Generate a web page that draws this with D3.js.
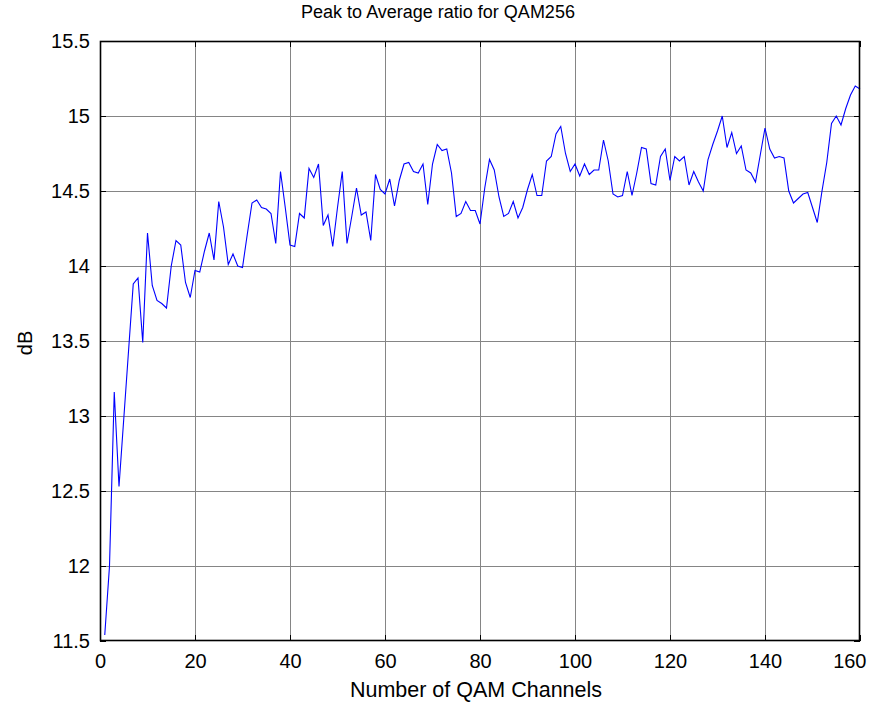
<!DOCTYPE html>
<html>
<head>
<meta charset="utf-8">
<script src="https://cdn.jsdelivr.net/npm/d3@7"></script>
<style>
  html, body { margin: 0; padding: 0; background: #fff; }
  svg { display: block; }
  text { font-family: Arial, "Liberation Sans", Helvetica, sans-serif; fill: #000; }
</style>
</head>
<body>
<svg id="chart" width="881" height="703"></svg>
<script>
// ---- data ----
const channels = d3.range(1, 161);
const papr = [
  11.54, 12.00, 13.16, 12.53, 12.98, 13.43, 13.88, 13.92, 13.49, 14.22,
  13.87, 13.77, 13.75, 13.72, 14.00, 14.17, 14.14, 13.89, 13.79, 13.97,
  13.96, 14.10, 14.22, 14.04, 14.43, 14.26, 14.01, 14.08, 14.00, 13.99,
  14.21, 14.42, 14.44, 14.39, 14.38, 14.35, 14.15, 14.63, 14.39, 14.14,
  14.13, 14.35, 14.32, 14.65, 14.59, 14.68, 14.27, 14.34, 14.13, 14.39,
  14.63, 14.15, 14.33, 14.52, 14.34, 14.36, 14.17, 14.61, 14.51, 14.48,
  14.58, 14.40, 14.57, 14.68, 14.69, 14.63, 14.62, 14.68, 14.41, 14.68,
  14.81, 14.77, 14.78, 14.62, 14.33, 14.35, 14.43, 14.37, 14.37, 14.28,
  14.52, 14.71, 14.64, 14.46, 14.33, 14.35, 14.43, 14.32, 14.39, 14.51,
  14.61, 14.47, 14.47, 14.70, 14.73, 14.88, 14.93, 14.75, 14.63, 14.68,
  14.60, 14.68, 14.61, 14.64, 14.64, 14.84, 14.70, 14.48, 14.46, 14.47,
  14.63, 14.47, 14.62, 14.79, 14.78, 14.55, 14.54, 14.73, 14.78, 14.57,
  14.73, 14.70, 14.73, 14.54, 14.63, 14.56, 14.50, 14.71, 14.81, 14.90,
  15.00, 14.79, 14.89, 14.75, 14.80, 14.64, 14.62, 14.56, 14.74, 14.92,
  14.78, 14.72, 14.73, 14.72, 14.50, 14.42, 14.45, 14.48, 14.49, 14.39,
  14.29, 14.50, 14.69, 14.95, 15.00, 14.94, 15.05, 15.14, 15.20, 15.18
];
const xTicks = [0, 20, 40, 60, 80, 100, 120, 140, 160];
const yTicks = [11.5, 12, 12.5, 13, 13.5, 14, 14.5, 15, 15.5];
const titleText = "Peak to Average ratio for QAM256";
const xLabelText = "Number of QAM Channels";
const yLabelText = "dB";

// ---- layout ----
const svg = d3.select("#chart");
const L = 100, R = 860, T = 41, B = 641;
const x = d3.scaleLinear().domain([0, 160]).range([L, R]);
const y = d3.scaleLinear().domain([11.5, 15.5]).range([B, T]);

// grid
const grid = svg.append("g");
grid.selectAll("line.gx").data(xTicks.slice(1, -1)).enter().append("line")
  .attr("x1", d => Math.round(x(d)) + 0.5).attr("x2", d => Math.round(x(d)) + 0.5)
  .attr("y1", T).attr("y2", B)
  .attr("stroke", "#858585").attr("stroke-width", 1);
grid.selectAll("line.gy").data(yTicks.slice(1, -1)).enter().append("line")
  .attr("y1", d => Math.round(y(d)) + 0.5).attr("y2", d => Math.round(y(d)) + 0.5)
  .attr("x1", L).attr("x2", R)
  .attr("stroke", "#858585").attr("stroke-width", 1);

// line
const line = d3.line().x((d, i) => x(channels[i])).y(d => y(d));
svg.append("path").datum(papr)
  .attr("d", line)
  .attr("fill", "none")
  .attr("stroke", "#0000ff")
  .attr("stroke-width", 1.1)
  .attr("stroke-linejoin", "miter");

// axes (ticks inward, labels outside)
const xAxisB = d3.axisBottom(x).tickValues(xTicks).tickSizeInner(-6).tickSizeOuter(0).tickPadding(13);
const xAxisT = d3.axisTop(x).tickValues(xTicks).tickSizeInner(-6).tickSizeOuter(0).tickFormat("");
const yAxisL = d3.axisLeft(y).tickValues(yTicks).tickSizeInner(-6).tickSizeOuter(0).tickPadding(10).tickFormat(d3.format(""));
const yAxisR = d3.axisRight(y).tickValues(yTicks).tickSizeInner(-6).tickSizeOuter(0).tickFormat("");

function styleAxis(g) {
  g.select(".domain").remove();
  g.selectAll(".tick line").attr("stroke", "#000").attr("stroke-width", 1);
  g.selectAll("text").style("font-size", "20px").attr("fill", "#000");
}
const gxb = svg.append("g").attr("transform", `translate(0,${B})`).call(xAxisB).call(styleAxis);
// last x tick label kept inside the figure, as in the original
gxb.selectAll(".tick text").filter(d => d === xTicks[xTicks.length - 1])
  .attr("text-anchor", "end").attr("dx", 6);
svg.append("g").attr("transform", `translate(0,${T})`).call(xAxisT).call(styleAxis);
svg.append("g").attr("transform", `translate(${L},0)`).call(yAxisL).call(styleAxis);
svg.append("g").attr("transform", `translate(${R},0)`).call(yAxisR).call(styleAxis);

// box
svg.append("rect").attr("x", L + 0.5).attr("y", T + 0.5)
  .attr("width", R - L - 1).attr("height", B - T - 1)
  .attr("fill", "none").attr("stroke", "#000").attr("stroke-width", 1.6);

// labels
svg.append("text").attr("x", 438).attr("y", 18)
  .attr("text-anchor", "middle").style("font-size", "18px").text(titleText);
svg.append("text").attr("x", 476).attr("y", 697)
  .attr("text-anchor", "middle").style("font-size", "21.5px").text(xLabelText);
svg.append("text").attr("transform", `translate(32,343) rotate(-90)`)
  .attr("text-anchor", "middle").style("font-size", "20px").text(yLabelText);
</script>
</body>
</html>
